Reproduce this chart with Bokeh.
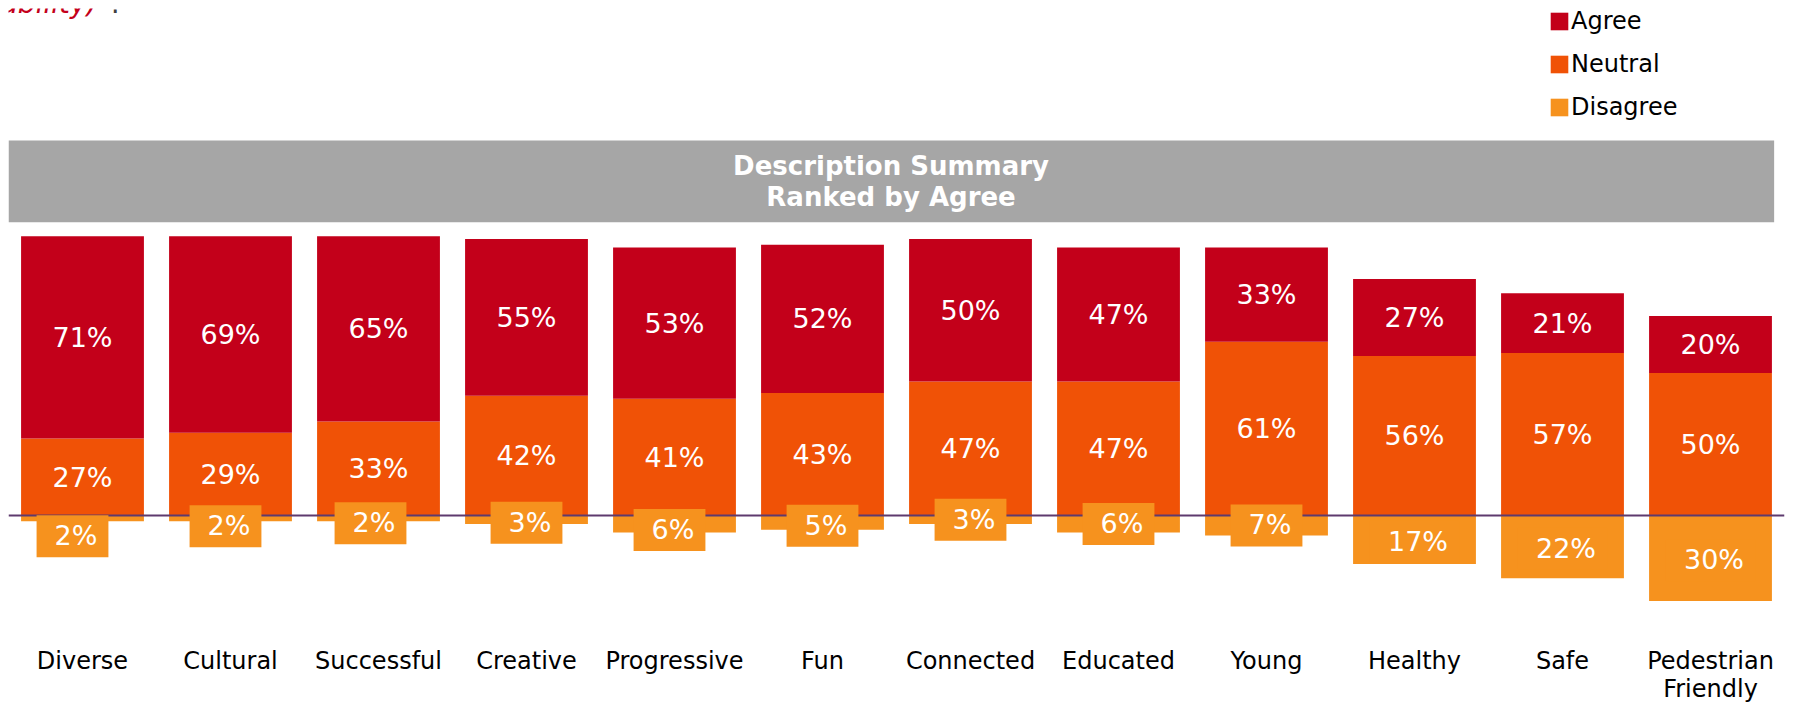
from bokeh.plotting import figure
from bokeh.models import (ColumnDataSource, FactorRange, Range1d, Span, BoxAnnotation,
                          Legend, LegendItem, Label)
from bokeh.core.properties import value
from bokeh.embed import file_html
from bokeh.resources import INLINE

# ---------------- data ----------------
categories = ["Diverse", "Cultural", "Successful", "Creative", "Progressive", "Fun",
              "Connected", "Educated", "Young", "Healthy", "Safe", "Pedestrian\nFriendly"]
agree = [71, 69, 65, 55, 53, 52, 50, 47, 33, 27, 21, 20]
neutral = [27, 29, 33, 42, 41, 43, 47, 47, 61, 56, 57, 50]
disagree = [2, 2, 2, 3, 6, 5, 3, 6, 7, 17, 22, 30]

# ---------------- layout-only label nudges (pixels) ----------------
dis_label_dx = [-10, -5, -8, 0, -5, 0, 0, 0, 0, 0, 0, 0]
dis_label_dy = [18, 8, 5, 3, 6, 3, 0, 0, 0, 2, 2, 2]

AGREE_C = "#C3001A"
NEUTRAL_C = "#F05206"
DISAGREE_C = "#F6921E"
BAND_C = "#A6A6A6"
FONT = "DejaVu Sans"

src = ColumnDataSource(dict(
    cat=categories,
    agree=agree, neutral=neutral, disagree=disagree,
    a_top=[n + a for n, a in zip(neutral, agree)],
    d_bot=[-d for d in disagree],
    a_mid=[n + a / 2 for n, a in zip(neutral, agree)],
    n_mid=[n / 2 for n in neutral],
    d_mid=[-d / 2 for d in disagree],
    a_lab=[f"{v}%" for v in agree],
    n_lab=[f"{v}%" for v in neutral],
    d_lab=[f"{v}%" for v in disagree],
    d_dx=dis_label_dx, d_dy=dis_label_dy,
))

p = figure(x_range=FactorRange(*categories), y_range=Range1d(-33.33, 177.89),
           frame_width=1776, frame_height=602, output_backend="svg", toolbar_location=None,
           y_axis_location=None, min_border_left=8, min_border_right=5,
           min_border_top=8, min_border_bottom=60, outline_line_color=None,
           background_fill_color="white", border_fill_color="white")
p.grid.visible = False

BW = 0.83
r_neu = p.vbar(x="cat", bottom=0, top="neutral", width=BW, color=NEUTRAL_C, line_color=None, source=src)
r_agr = p.vbar(x="cat", bottom="neutral", top="a_top", width=BW, color=AGREE_C, line_color=None, source=src)
r_dis = p.vbar(x="cat", bottom="d_bot", top=0, width=BW, color=DISAGREE_C, line_color=None, source=src)

p.add_layout(Span(location=0, dimension="width", line_color="#5E3A6E", line_width=2, level="guide"))

common = dict(text_align="center", text_baseline="middle", text_color="white",
              text_font=value(FONT), text_font_size="27px", source=src)
p.text(x="cat", y="a_mid", text="a_lab", **common)
p.text(x="cat", y="n_mid", text="n_lab", **common)
rt = p.text(x="cat", y="d_mid", text="d_lab", x_offset="d_dx", y_offset="d_dy",
            background_fill_color=DISAGREE_C,
            padding=dict(left=18, right=11, top=5, bottom=6), **common)
rt.level = "annotation"

# page heading (cut off at the top edge, as in the original)
p.add_layout(Label(x=0.601, y=179.6, text="(Sustainability)", text_align="right",
                   text_baseline="alphabetic", text_color="#C4001A", text_font=FONT,
                   text_font_style="italic", text_font_size="28px"))
p.add_layout(Label(x=0.676, y=179.6, text="?", text_align="left",
                   text_baseline="alphabetic", text_color="#404040", text_font=FONT,
                   text_font_size="28px"))

# title band
p.add_layout(BoxAnnotation(left=0, right=11.93, bottom=102.9, top=131.6,
                           fill_color=BAND_C, fill_alpha=1, line_color=None))
p.add_layout(Label(x=5.963, y=117.25, text="Description Summary\nRanked by Agree",
                   text_align="center", text_baseline="middle", text_color="white",
                   text_font=FONT, text_font_style="bold", text_font_size="26px",
                   text_line_height=1.05))

legend = Legend(items=[LegendItem(label="Agree", renderers=[r_agr]),
                       LegendItem(label="Neutral", renderers=[r_neu]),
                       LegendItem(label="Disagree", renderers=[r_dis])],
                location=(1540, 489), orientation="vertical",
                glyph_width=22, glyph_height=22, label_standoff=1, spacing=15,
                padding=0, margin=0, border_line_color=None, background_fill_alpha=0,
                label_text_font=FONT, label_text_font_size="24px", label_height=28,
                label_text_color="black")
p.add_layout(legend, "center")

xa = p.xaxis[0]
xa.axis_line_color = None
xa.major_tick_line_color = None
xa.minor_tick_line_color = None
xa.major_label_text_font = FONT
xa.major_label_text_font_size = "24px"
xa.major_label_text_color = "black"
xa.major_label_standoff = 30
xa.major_label_text_line_height = 1.02

open("out.html", "w").write(file_html(p, INLINE))
